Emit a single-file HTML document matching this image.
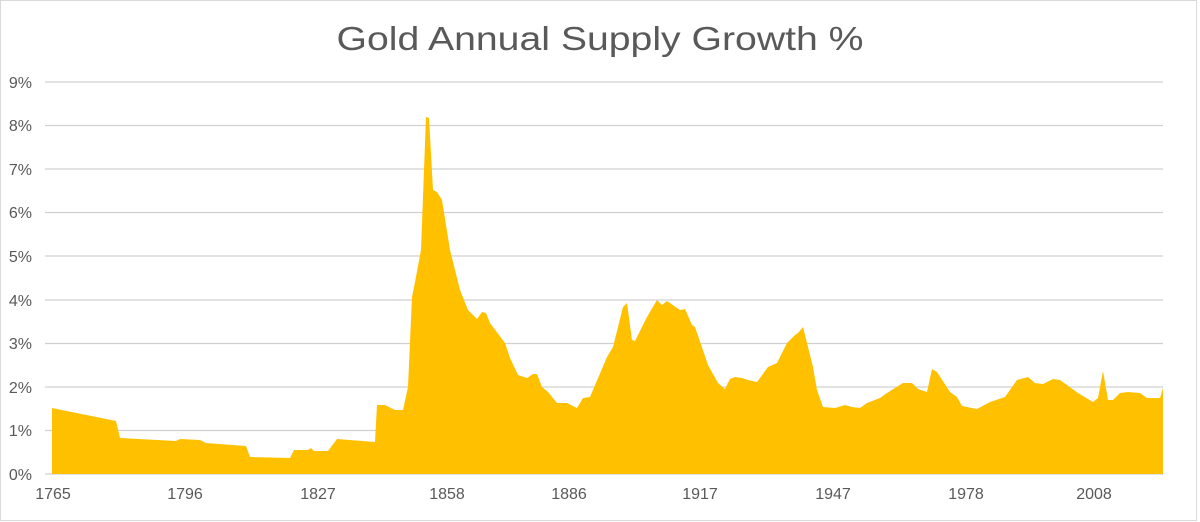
<!DOCTYPE html>
<html><head><meta charset="utf-8"><style>
html,body{margin:0;padding:0;background:#fff;}
svg{display:block;}
text{font-family:"Liberation Sans",sans-serif;fill:#595959;}
</style></head><body>
<svg width="1200" height="522" viewBox="0 0 1200 522" xmlns="http://www.w3.org/2000/svg">
<rect x="0.5" y="0.5" width="1196" height="520" fill="#fff" stroke="#d9d9d9"/>
<text x="600" y="50" font-size="33" text-anchor="middle" textLength="527" lengthAdjust="spacingAndGlyphs">Gold Annual Supply Growth %</text>
<g stroke="#d0d0d0" stroke-width="1.2">
<line x1="45" x2="1163" y1="82" y2="82"/>
<line x1="45" x2="1163" y1="125.5" y2="125.5"/>
<line x1="45" x2="1163" y1="169" y2="169"/>
<line x1="45" x2="1163" y1="212.5" y2="212.5"/>
<line x1="45" x2="1163" y1="256" y2="256"/>
<line x1="45" x2="1163" y1="300" y2="300"/>
<line x1="45" x2="1163" y1="343.5" y2="343.5"/>
<line x1="45" x2="1163" y1="387" y2="387"/>
<line x1="45" x2="1163" y1="430.5" y2="430.5"/>
<line x1="45" x2="1163" y1="474" y2="474"/>
</g>
<g font-size="16" text-anchor="end">
<text x="32" y="88">9%</text>
<text x="32" y="131">8%</text>
<text x="32" y="175">7%</text>
<text x="32" y="218">6%</text>
<text x="32" y="262">5%</text>
<text x="32" y="306">4%</text>
<text x="32" y="349">3%</text>
<text x="32" y="393">2%</text>
<text x="32" y="436">1%</text>
<text x="32" y="480">0%</text>
</g>
<path fill="#ffc000" d="M52,474 L52,408 L116,421 L120,438 L176,441 L180,439 L200,440 L206,443 L246,446 L250,457 L290,458 L294,450 L308,450 L311,448 L314,451 L328,451 L337,439 L375,442 L377,405 L385,405 L395,410 L403,410 L408,387 L412,297 L415,282 L421,250 L426,117 L429,118 L433,190 L437,192 L442,200 L450,250 L460,290 L468,310 L477,319 L482,312 L486,313 L490,323 L505,343 L510,358 L518,375 L527,378 L533,374 L537,374 L542,387 L548,392 L557,403 L567,403 L577,408 L583,398 L590,397 L607,357 L613,347 L623,307 L627,303 L632,340 L635,341 L647,317 L657,300 L662,305 L667,301 L680,310 L685,309 L692,325 L695,327 L708,365 L718,383 L725,389 L730,379 L735,377 L742,378 L748,380 L757,382 L768,367 L777,363 L787,343 L795,335 L798,333 L803,327 L813,367 L817,390 L823,407 L835,408 L845,405 L852,407 L860,408 L867,403 L880,398 L887,393 L903,383 L912,383 L918,389 L927,392 L932,369 L937,372 L950,392 L957,397 L962,406 L977,409 L990,402 L1005,397 L1017,380 L1028,377 L1035,383 L1043,384 L1053,379 L1060,380 L1078,393 L1093,402 L1098,398 L1103,371 L1108,400 L1113,400 L1120,393 L1128,392 L1140,393 L1147,398 L1160,398 L1163,388 L1163,474 Z"/>
<g font-size="16" text-anchor="middle">
<text x="53" y="499">1765</text>
<text x="185" y="499">1796</text>
<text x="318" y="499">1827</text>
<text x="447" y="499">1858</text>
<text x="569" y="499">1886</text>
<text x="700" y="499">1917</text>
<text x="833" y="499">1947</text>
<text x="966" y="499">1978</text>
<text x="1094" y="499">2008</text>
</g>
</svg>
</body></html>
